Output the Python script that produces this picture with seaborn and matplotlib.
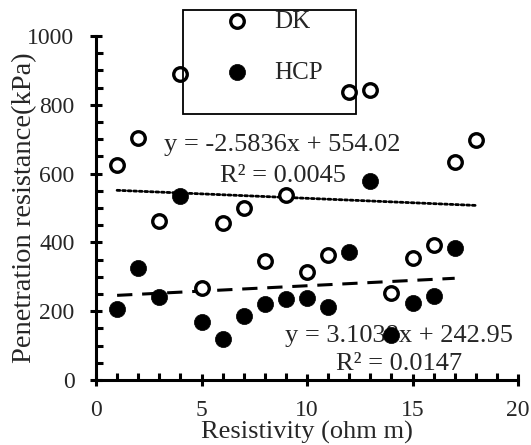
import numpy as np
import pandas as pd
import matplotlib
matplotlib.use("Agg")
import matplotlib.pyplot as plt
import seaborn as sns
from matplotlib.ticker import MultipleLocator
from matplotlib.patches import Rectangle

# ---- data ----
dk_x = [1, 2, 3, 4, 5, 6, 7, 8, 9, 10, 11, 12, 13, 14, 15, 16, 17, 18]
dk_y = [626, 704, 461, 890, 267, 455, 501, 345, 539, 313, 362, 838, 843, 252, 356, 391, 635, 699]
hcp_x = [1, 2, 3, 4, 5, 6, 7, 8, 9, 10, 11, 12, 13, 14, 15, 16, 17]
hcp_y = [205, 325, 240, 535, 168, 120, 185, 222, 235, 237, 212, 372, 578, 132, 225, 245, 385]
dk_slope, dk_intercept, dk_r2 = -2.5836, 554.02, 0.0045
hcp_slope, hcp_intercept, hcp_r2 = 3.1038, 242.95, 0.0147
x_ticks = [0, 5, 10, 15, 20]
y_ticks = [0, 200, 400, 600, 800, 1000]

sns.set_style("white")
plt.rcParams['font.family'] = ['Liberation Serif', 'DejaVu Serif']

fig = plt.figure(figsize=(5.31, 4.45), dpi=100)
ax = fig.add_axes([96/531, 1-380/445, 422/531, 344/445])

TICK_FS = 17
ANN_FS = 19
LEG_FS = 18
dk = pd.DataFrame({"x": dk_x, "y": dk_y})
hcp = pd.DataFrame({"x": hcp_x, "y": hcp_y})

# trend lines
dk_line = pd.DataFrame({"x": [min(dk_x), max(dk_x)]})
dk_line["y"] = dk_slope * dk_line["x"] + dk_intercept
hcp_line = pd.DataFrame({"x": [min(hcp_x), max(hcp_x)]})
hcp_line["y"] = hcp_slope * hcp_line["x"] + hcp_intercept
sns.lineplot(data=dk_line, x="x", y="y", ax=ax, color="black", lw=2.0,
             linestyle=(0, (1, 1.0)), dash_capstyle="round", zorder=2)
sns.lineplot(data=hcp_line, x="x", y="y", ax=ax, color="black", lw=2.2,
             linestyle=(0, (5, 3.2)), zorder=2)

# annotations (below markers)
ax.text(8.85, 666, f"y = {dk_slope}x + {dk_intercept:.2f}", ha="center", va="baseline", fontsize=ANN_FS, zorder=1)
ax.text(8.85, 576, f"R² = {dk_r2}", ha="center", va="baseline", fontsize=ANN_FS, zorder=1)
ax.text(14.36, 110, f"y = {hcp_slope}x + {hcp_intercept:.2f}", ha="center", va="baseline", fontsize=ANN_FS, zorder=1)
ax.text(14.36, 29, f"R² = {hcp_r2}", ha="center", va="baseline", fontsize=ANN_FS, zorder=1)

sns.scatterplot(data=dk, x="x", y="y", ax=ax, marker="o", s=95, facecolor="white",
                edgecolor="black", linewidth=2.4, label="DK", zorder=3, clip_on=False)
sns.scatterplot(data=hcp, x="x", y="y", ax=ax, marker="o", s=135, color="black",
                edgecolor="black", linewidth=0.5, label="HCP", zorder=3, clip_on=False)

ax.set_xlim(0, 20)
ax.set_ylim(0, 1000)
ax.set_xticks(x_ticks)
ax.set_yticks(y_ticks)
ax.xaxis.set_minor_locator(MultipleLocator(1))
ax.yaxis.set_minor_locator(MultipleLocator(50))
for s in ["top", "right"]:
    ax.spines[s].set_visible(False)
for s in ["left", "bottom"]:
    ax.spines[s].set_linewidth(2.2)
    ax.spines[s].set_color("black")
ax.tick_params(which="major", direction="inout", length=9, width=2.2, labelsize=TICK_FS, pad=11, color="black")
ax.tick_params(axis="x", which="major", pad=10)
ax.tick_params(which="minor", direction="in", length=5, width=2.2, color="black")
ax.tick_params(axis="both", which="both", bottom=True, left=True)
ax.set_xlabel("Resistivity (ohm m)", fontsize=19, labelpad=0)
ax.set_ylabel("Penetration resistance(kPa)", fontsize=20.5, labelpad=-7)

handles, labels = ax.get_legend_handles_labels()
leg = ax.legend(handles, labels, loc="upper left", bbox_to_anchor=(212/531, 1-10/445),
                bbox_transform=fig.transFigure, frameon=False, fontsize=LEG_FS,
                borderpad=0, borderaxespad=0, labelspacing=1.15, handletextpad=0.5)
fig.patches.append(Rectangle((183/531, 1-114/445), 173/531, 104/445, transform=fig.transFigure,
                             fill=False, edgecolor="black", lw=1.3))

fig.savefig("out.png", dpi=100)
